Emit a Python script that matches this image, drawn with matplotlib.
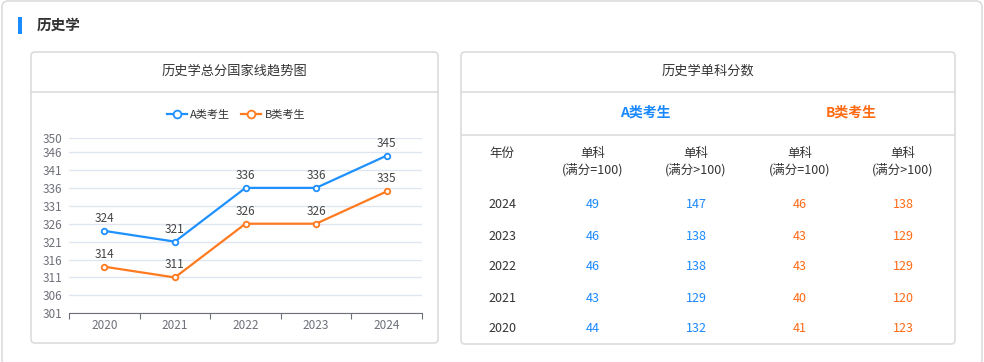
import matplotlib
matplotlib.use('Agg')
import matplotlib.pyplot as plt
from matplotlib.patches import FancyBboxPatch, Rectangle
from matplotlib.lines import Line2D
from matplotlib.transforms import Affine2D

plt.rcParams['font.family'] = ['Noto Sans CJK SC', 'DejaVu Sans']

# data
years = ['2020', '2021', '2022', '2023', '2024']
a_total = [324, 321, 336, 336, 345]
b_total = [314, 311, 326, 326, 335]
y_ticks = [301, 306, 311, 316, 321, 326, 331, 336, 341, 346, 350]

table_years = ['2024', '2023', '2022', '2021', '2020']
a_single_100 = [49, 46, 46, 43, 44]
a_single_gt100 = [147, 138, 138, 129, 132]
b_single_100 = [46, 43, 43, 40, 41]
b_single_gt100 = [138, 129, 129, 120, 123]

W, H = 984, 362
BLUE = '#1e90ff'
ORANGE = '#ff7a1f'
TBL_BLUE = '#1a88ff'
TBL_ORANGE = '#ff6a14'
BORDER = '#dcdcdc'
TXT = '#333333'

fig = plt.figure(figsize=(W / 100, H / 100), dpi=100)
fig.patch.set_facecolor('white')
# pixel coords, origin top-left
T = Affine2D().scale(1, -1).translate(0, H)


def card(x0, y0, x1, y1, r=4):
    p = FancyBboxPatch((x0, y0), x1 - x0, y1 - y0,
                       boxstyle='round,pad=0,rounding_size=%d' % r,
                       transform=T, fc='white', ec=BORDER, lw=1.2)
    fig.add_artist(p)


def hline(x0, x1, y, c=BORDER):
    fig.add_artist(Line2D([x0, x1], [y, y], transform=T, color=c, lw=1.2))


def txt(x, y, s, size=9, color=TXT, weight='normal', ha='center'):
    fig.text(x, y, s, transform=T, fontsize=size, color=color,
             weight=weight, ha=ha, va='center')


# outer card + header
card(2, 1, 982, 380, r=6)
fig.add_artist(Rectangle((18, 17), 4, 17, transform=T, fc='#1a8cff', ec='none'))
txt(37, 25, '历史学', size=10.5, weight='bold', ha='left')

# left card
card(31, 52, 438, 343)
hline(31, 438, 92)
txt(234.5, 71, '历史学总分国家线趋势图', size=9.5)

# right card
card(461, 52, 955, 344)
hline(461, 955, 92)
hline(461, 955, 135)
txt(708, 71, '历史学单科分数', size=9.5)
txt(645, 113, 'A类考生', size=10, color=TBL_BLUE, weight='bold')
txt(851, 113, 'B类考生', size=10, color=TBL_ORANGE, weight='bold')

col_x = [502, 593, 696, 800, 903]
txt(col_x[0], 153, '年份', size=9)
for cx, lab in zip(col_x[1:], ['(满分=100)', '(满分>100)', '(满分=100)', '(满分>100)']):
    txt(cx, 153, '单科', size=9)
    txt(cx, 170, lab, size=9)

row_y = [205, 236, 267, 298, 329]
for i, ry in enumerate(row_y):
    txt(col_x[0], ry, table_years[i], size=9)
    txt(col_x[1], ry, str(a_single_100[i]), size=9, color=TBL_BLUE)
    txt(col_x[2], ry, str(a_single_gt100[i]), size=9, color=TBL_BLUE)
    txt(col_x[3], ry, str(b_single_100[i]), size=9, color=TBL_ORANGE)
    txt(col_x[4], ry, str(b_single_gt100[i]), size=9, color=TBL_ORANGE)

# line chart
ax_l, ax_r, ax_t, ax_b = 69, 422, 137.7, 313.3
ax = fig.add_axes([ax_l / W, (H - ax_b) / H, (ax_r - ax_l) / W, (ax_b - ax_t) / H])
ax.set_zorder(5)
ax.set_facecolor('none')
x = list(range(len(years)))
ax.plot(x, a_total, color=BLUE, lw=1.6, marker='o', ms=4, mfc='white',
        mew=1.3, label='A类考生', zorder=3, clip_on=False)
ax.plot(x, b_total, color=ORANGE, lw=1.6, marker='o', ms=4, mfc='white',
        mew=1.3, label='B类考生', zorder=3, clip_on=False)
for xi, a, b in zip(x, a_total, b_total):
    ax.annotate(str(a), (xi, a), xytext=(0, 9), textcoords='offset points',
                ha='center', va='center', fontsize=8.5, color='#444444')
    ax.annotate(str(b), (xi, b), xytext=(0, 9), textcoords='offset points',
                ha='center', va='center', fontsize=8.5, color='#444444')

ax.set_xlim(-0.5, len(years) - 0.5)
ax.set_ylim(301, 350)
ax.set_yticks(y_ticks)
ax.tick_params(axis='y', length=0, labelsize=8.5, labelcolor='#6e7079', pad=5)
ax.grid(axis='y', color='#e0e6f1', lw=1)
ax.set_axisbelow(True)
ax.set_xticks([i - 0.5 for i in range(len(years) + 1)])
ax.set_xticklabels([])
ax.set_xticks(x, minor=True)
ax.set_xticklabels(years, minor=True)
ax.tick_params(axis='x', which='major', length=4, color='#6e7079')
ax.tick_params(axis='x', which='minor', length=0, labelsize=8.5,
               labelcolor='#6e7079', pad=4)
for s in ['top', 'right', 'left']:
    ax.spines[s].set_visible(False)
ax.spines['bottom'].set_color('#6e7079')

leg = ax.legend(loc='center', bbox_to_anchor=(236 / W, (H - 115) / H),
                bbox_transform=fig.transFigure,
                ncol=2, frameon=False, fontsize=8, handlelength=1.8,
                columnspacing=1.0, handletextpad=0.3, labelcolor='#333333',
                markerscale=1.4)

fig.savefig('out.png', dpi=100)
